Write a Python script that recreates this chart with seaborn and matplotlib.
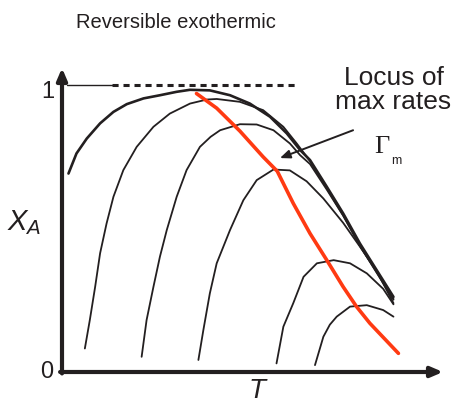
import matplotlib
matplotlib.use("Agg")
import matplotlib.pyplot as plt
import seaborn as sns

# rate contours (T scaled 0..1, conversion X_A 0..1)
c1_t = [0.017, 0.038, 0.065, 0.100, 0.135, 0.170, 0.214, 0.257, 0.301, 0.336, 0.388,
        0.441, 0.493, 0.546, 0.590, 0.625, 0.651, 0.695, 0.738, 0.782, 0.826, 0.870]
c1_x = [0.692, 0.762, 0.814, 0.867, 0.907, 0.934, 0.954, 0.965, 0.977, 0.984, 0.982,
        0.965, 0.936, 0.890, 0.832, 0.774, 0.739, 0.646, 0.553, 0.448, 0.355, 0.262]

c2_t = [0.060, 0.073, 0.087, 0.100, 0.117, 0.135, 0.161, 0.196, 0.240, 0.283, 0.336,
        0.380, 0.406, 0.467, 0.528, 0.581, 0.616, 0.651, 0.695, 0.738, 0.782, 0.826, 0.870]
c2_x = [0.082, 0.181, 0.297, 0.414, 0.518, 0.611, 0.704, 0.785, 0.855, 0.901, 0.936,
        0.950, 0.952, 0.942, 0.913, 0.855, 0.797, 0.735, 0.640, 0.546, 0.440, 0.348, 0.255]

c3_t = [0.209, 0.222, 0.240, 0.257, 0.275, 0.301, 0.327, 0.362, 0.390, 0.415, 0.467, 0.511,
        0.555, 0.598, 0.625, 0.651, 0.695, 0.738, 0.782, 0.826, 0.870]
c3_x = [0.053, 0.181, 0.297, 0.402, 0.495, 0.611, 0.704, 0.785, 0.820, 0.843, 0.864, 0.863,
        0.843, 0.797, 0.756, 0.725, 0.636, 0.545, 0.440, 0.346, 0.252]

c4_t = [0.358, 0.371, 0.388, 0.406, 0.441, 0.476, 0.511, 0.555, 0.598, 0.642, 0.686,
        0.738, 0.782, 0.826, 0.870]
c4_x = [0.042, 0.146, 0.274, 0.379, 0.495, 0.599, 0.669, 0.706, 0.703, 0.665, 0.605,
        0.520, 0.437, 0.352, 0.240]

c5_t = [0.563, 0.581, 0.607, 0.634, 0.669, 0.713, 0.756, 0.800, 0.843, 0.870]
c5_x = [0.030, 0.158, 0.240, 0.332, 0.379, 0.390, 0.379, 0.344, 0.290, 0.236]

c6_t = [0.664, 0.686, 0.703, 0.721, 0.756, 0.800, 0.843, 0.870]
c6_x = [0.024, 0.123, 0.165, 0.193, 0.228, 0.233, 0.216, 0.193]

# locus of maximum rates
locus_t = [0.353, 0.406, 0.467, 0.528, 0.565, 0.607, 0.651, 0.695, 0.738, 0.773, 0.808, 0.883]
locus_x = [0.971, 0.920, 0.840, 0.750, 0.700, 0.588, 0.483, 0.390, 0.297, 0.228, 0.170, 0.065]

# equilibrium limit X_A = 1
eq_solid_t = [0.013, 0.131]
eq_dash_t = [0.131, 0.617]
eq_level = 1.0

INK = "#231f20"
RED = "#ff3a12"

sns.set_style("white")
plt.rcParams["font.family"] = ["Liberation Sans", "DejaVu Sans"]
plt.rcParams["mathtext.fontset"] = "custom"
plt.rcParams["mathtext.rm"] = "Liberation Sans"
plt.rcParams["mathtext.it"] = "Liberation Sans:italic"

fig = plt.figure(figsize=(4.54, 4.03), dpi=100)
ax = fig.add_axes([62 / 454, 31 / 403, 381 / 454, 304 / 403])
ax.set_xlim(0, 1)
ax.set_ylim(0, 1.06)
ax.axis("off")

curves = [(c1_t, c1_x, 1.9), (c2_t, c2_x, 1.3), (c3_t, c3_x, 1.3),
          (c4_t, c4_x, 1.3), (c5_t, c5_x, 1.3), (c6_t, c6_x, 1.3)]
for ts, xs, lw in curves:
    sns.lineplot(x=ts, y=xs, sort=False, estimator=None, color=INK, lw=lw, ax=ax)

sns.lineplot(x=eq_solid_t, y=[eq_level] * 2, color=INK, lw=1.0, ax=ax)
sns.lineplot(x=eq_dash_t, y=[eq_level] * 2, color=INK, lw=2.2, ax=ax,
             linestyle=(0, (2.0, 1.6)))
sns.lineplot(x=locus_t, y=locus_x, sort=False, estimator=None, color=RED, lw=2.6, ax=ax)

# axes with arrow heads
arrow = dict(arrowstyle="-|>,head_length=0.7,head_width=0.3", lw=3.0, color=INK,
             shrinkA=0, shrinkB=0)
ax.annotate("", xy=(1.0, 0), xytext=(-0.005, 0), arrowprops=arrow, annotation_clip=False)
ax.annotate("", xy=(0, 1.06), xytext=(0, -0.005), arrowprops=arrow, annotation_clip=False)

ax.text(-0.037, 0.975, "1", ha="center", va="center", fontsize=17, color=INK)
ax.text(-0.04, 0.0, "0", ha="center", va="center", fontsize=17, color=INK)
ax.text(-0.10, 0.52, r"$X_A$", ha="center", va="center", fontsize=21, color=INK)
ax.text(0.514, -0.065, r"$T$", ha="center", va="center", fontsize=20, color=INK)

ax.text(0.87, 0.985, "Locus of\nmax rates", ha="center", va="center", fontsize=19,
        color=INK, linespacing=1.0)
ax.text(0.84, 0.785, "\u0393", ha="center", va="center", fontsize=19, color=INK,
        family="Liberation Serif")
ax.text(0.877, 0.735, "m", ha="center", va="center", fontsize=9, color=INK)
ax.annotate("", xy=(0.572, 0.746), xytext=(0.764, 0.843),
            arrowprops=dict(arrowstyle="-|>,head_length=0.6,head_width=0.25", lw=1.4,
                            color=INK, shrinkA=0, shrinkB=0))

fig.text(176 / 454, 1 - 22 / 403, "Reversible exothermic", ha="center", va="center",
         fontsize=14.5, color=INK)

fig.savefig("out.png", dpi=100)
